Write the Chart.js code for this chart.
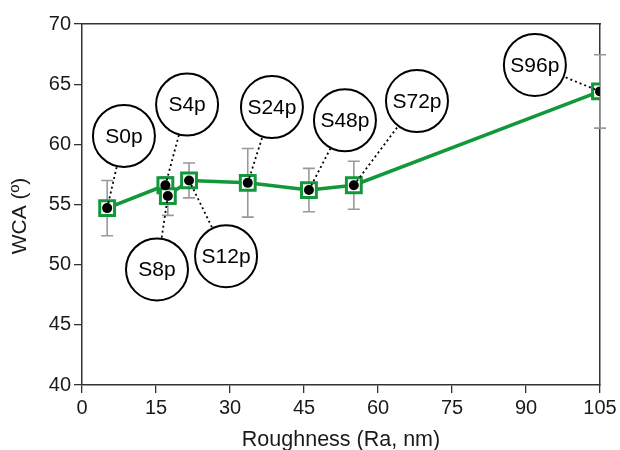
<!DOCTYPE html>
<html>
<head>
<meta charset="utf-8">
<script src="https://cdn.jsdelivr.net/npm/chart.js@4.4.0/dist/chart.umd.min.js"></script>
<style>
  html, body { margin: 0; padding: 0; background: #fff; }
  #wrap { width: 620px; height: 450px; }
</style>
</head>
<body>
<div id="wrap"><canvas id="chart" width="620" height="450"></canvas></div>
<script>
// sample names, roughness (Ra, nm), contact angle and its error
const sampleNames = ['S0p', 'S4p', 'S8p', 'S12p', 'S24p', 'S48p', 'S72p', 'S96p'];
const roughness = [5.1, 16.9, 17.4, 21.7, 33.6, 46.0, 55.1, 105];
const wca = [54.7, 56.6, 55.7, 57.0, 56.8, 56.2, 56.6, 64.4];
const wcaErr = [2.3, 0.7, 1.6, 1.45, 2.85, 1.8, 2.0, 3.05];

// where the name bubbles sit (data units)
const bubbleX = [8.5, 21.3, 15.2, 29.2, 38.5, 53.3, 67.9, 91.8];
const bubbleY = [60.7, 63.3, 49.6, 50.7, 63.1, 62.0, 63.6, 66.6];

const xTicks = [0, 15, 30, 45, 60, 75, 90, 105];
const yTicks = [40, 45, 50, 55, 60, 65, 70];

const green = '#12973a';
const font = "'Liberation Sans', Arial, sans-serif";

const points = roughness.map((x, i) => ({ x: x, y: wca[i] }));

const leaderSets = roughness.map((x, i) => ({
  type: 'line',
  data: [{ x: x, y: wca[i] }, { x: bubbleX[i], y: bubbleY[i] }],
  borderColor: '#000',
  borderWidth: 1.8,
  borderDash: [2, 3],
  pointRadius: 0,
  fill: false,
  order: 1
}));

const errorBars = {
  id: 'errorBars',
  beforeDatasetsDraw(chart) {
    const ctx = chart.ctx;
    const xs = chart.scales.x, ys = chart.scales.y;
    ctx.save();
    ctx.strokeStyle = '#999';
    ctx.lineWidth = 1.6;
    roughness.forEach((x, i) => {
      const px = xs.getPixelForValue(x);
      const top = ys.getPixelForValue(wca[i] + wcaErr[i]);
      const bot = ys.getPixelForValue(wca[i] - wcaErr[i]);
      ctx.beginPath();
      ctx.moveTo(px, top); ctx.lineTo(px, bot);
      ctx.moveTo(px - 6, top); ctx.lineTo(px + 6, top);
      ctx.moveTo(px - 6, bot); ctx.lineTo(px + 6, bot);
      ctx.stroke();
    });
    ctx.restore();
  }
};

// bubble names and the rotated y title
const extraText = {
  id: 'extraText',
  afterDatasetsDraw(chart) {
    const ctx = chart.ctx;
    const xs = chart.scales.x, ys = chart.scales.y;
    ctx.save();
    ctx.fillStyle = '#000';
    ctx.font = '21px ' + font;
    ctx.textAlign = 'center';
    ctx.textBaseline = 'middle';
    sampleNames.forEach((name, i) => {
      ctx.fillText(name, xs.getPixelForValue(bubbleX[i]), ys.getPixelForValue(bubbleY[i]) + 1);
    });
    ctx.fillStyle = '#1a1a1a';
    ctx.font = '21px ' + font;
    ctx.translate(20, 216);
    ctx.rotate(-Math.PI / 2);
    ctx.fillText('WCA (º)', 0, 0);
    ctx.restore();
  }
};

new Chart(document.getElementById('chart'), {
  type: 'scatter',
  data: {
    datasets: [
      {
        label: 'bubbles',
        data: bubbleX.map((x, i) => ({ x: x, y: bubbleY[i] })),
        pointStyle: 'circle',
        pointRadius: 31,
        pointBackgroundColor: '#fff',
        pointBorderColor: '#000',
        pointBorderWidth: 2,
        showLine: false,
        order: 0
      },
      ...leaderSets,
      {
        label: 'dots',
        data: points,
        pointStyle: 'circle',
        pointRadius: 5,
        pointBackgroundColor: '#000',
        pointBorderWidth: 0,
        showLine: false,
        order: 2
      },
      {
        label: 'WCA',
        type: 'line',
        data: points,
        borderColor: green,
        borderWidth: 3.5,
        pointStyle: 'rect',
        pointRadius: 10.5,
        pointBackgroundColor: '#fff',
        pointBorderColor: green,
        pointBorderWidth: 3,
        fill: false,
        tension: 0,
        order: 3
      }
    ]
  },
  options: {
    responsive: false,
    animation: false,
    events: [],
    layout: { padding: 0, autoPadding: false },
    plugins: {
      legend: { display: false },
      tooltip: { enabled: false }
    },
    scales: {
      x: {
        type: 'linear',
        min: 0,
        max: 105,
        afterBuildTicks: (s) => { s.ticks = xTicks.map(v => ({ value: v })); },
        afterFit: (s) => { s.height = 65; },
        grid: { drawOnChartArea: false, drawTicks: true, tickLength: 8, color: '#333', lineWidth: 1.3 },
        border: { display: true, color: '#333', width: 1.5 },
        ticks: { color: '#1a1a1a', font: { family: font, size: 20 }, padding: 3, maxRotation: 0 },
        title: { display: true, text: 'Roughness (Ra, nm)', color: '#1a1a1a', font: { family: font, size: 21.5 }, padding: { top: 4, bottom: -3 } }
      },
      y: {
        type: 'linear',
        min: 40,
        max: 70,
        afterBuildTicks: (s) => { s.ticks = yTicks.map(v => ({ value: v })); },
        afterFit: (s) => { s.width = 82; },
        grid: { drawOnChartArea: false, drawTicks: true, tickLength: 8, color: '#333', lineWidth: 1.3 },
        border: { display: true, color: '#333', width: 1.5 },
        ticks: { color: '#1a1a1a', font: { family: font, size: 20 }, padding: 3 }
      },
      x2: {
        type: 'linear',
        position: 'top',
        min: 0,
        max: 105,
        afterFit: (s) => { s.height = 24; },
        grid: { display: false },
        border: { display: true, color: '#333', width: 1.5 },
        ticks: { display: false }
      },
      y2: {
        type: 'linear',
        position: 'right',
        min: 40,
        max: 70,
        afterFit: (s) => { s.width = 20; },
        grid: { display: false },
        border: { display: true, color: '#333', width: 1.5 },
        ticks: { display: false }
      }
    }
  },
  plugins: [errorBars, extraText]
});
</script>
</body>
</html>
